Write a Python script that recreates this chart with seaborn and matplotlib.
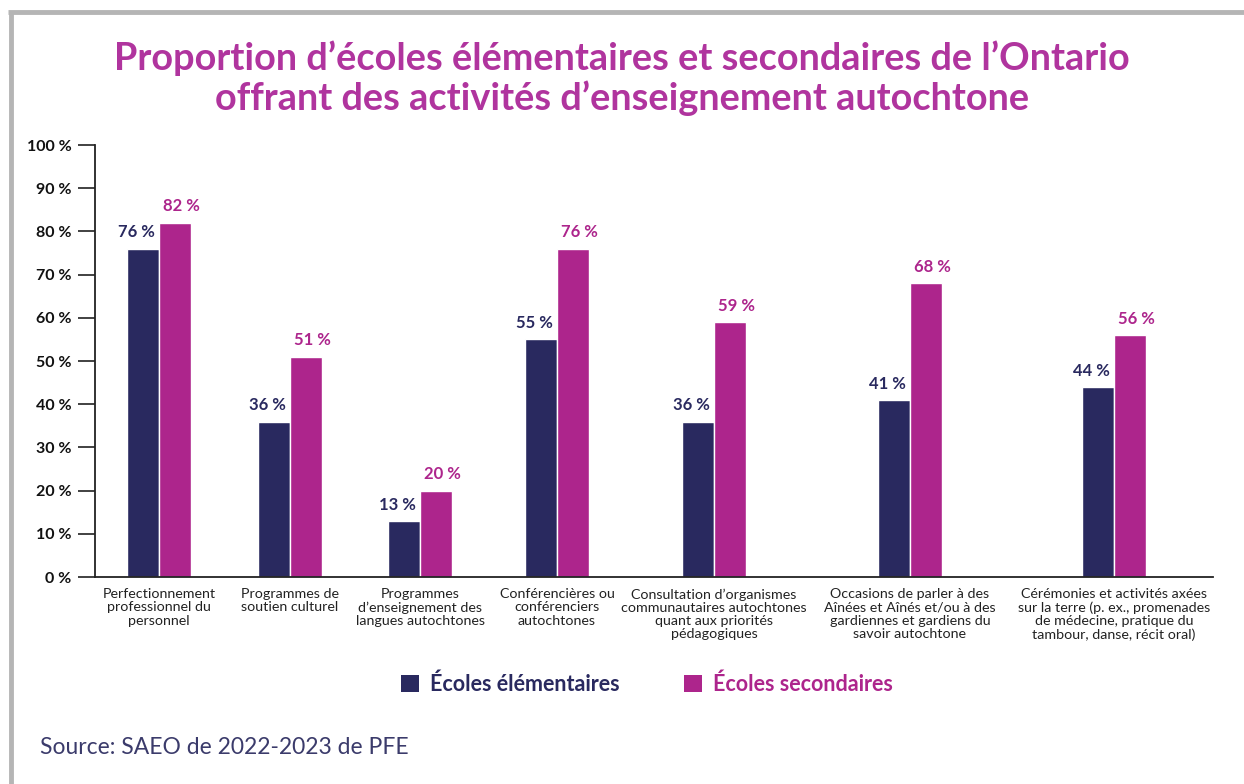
import matplotlib
matplotlib.use("Agg")
import matplotlib.pyplot as plt
import seaborn as sns
import pandas as pd
from matplotlib.lines import Line2D
from matplotlib.patches import Patch

categories = [
    "Perfectionnement\nprofessionnel du\npersonnel",
    "Programmes de\nsoutien culturel",
    "Programmes\nd\u2019enseignement des\nlangues autochtones",
    "Conférencières ou\nconférenciers\nautochtones",
    "Consultation d\u2019organismes\ncommunautaires autochtones\nquant aux priorités\npédagogiques",
    "Occasions de parler à des\nAînées et Aînés et/ou à des\ngardiennes et gardiens du\nsavoir autochtone",
    "Cérémonies et activités axées\nsur la terre (p. ex., promenades\nde médecine, pratique du\ntambour, danse, récit oral)",
]
elementaires = [76, 36, 13, 55, 36, 41, 44]
secondaires = [82, 51, 20, 76, 59, 68, 56]
series_names = ["Écoles élémentaires", "Écoles secondaires"]
yticks = [0, 10, 20, 30, 40, 50, 60, 70, 80, 90, 100]
title = "Proportion d\u2019écoles élémentaires et secondaires de l\u2019Ontario\noffrant des activités d\u2019enseignement autochtone"
source = "Source: SAEO de 2022-2023 de PFE"

# layout: slot centres of the categories along the x axis (uneven, as in the original)
slot_centres = [1.59, 2.90, 4.20, 5.57, 7.14, 9.10, 11.14]
x_limits = (0.95, 12.13)

NAVY = "#29295F"
MAGENTA = "#AD258C"
TITLE_C = "#B0349E"

sns.set_theme(style="white")
plt.rcParams["font.family"] = ["Lato", "DejaVu Sans"]

df = pd.DataFrame({
    "pos": slot_centres * 2,
    "val": elementaires + secondaires,
    "serie": [series_names[0]] * len(categories) + [series_names[1]] * len(categories),
})

fig = plt.figure(figsize=(12.44, 7.84), dpi=100)
ax = fig.add_axes([0.0764, 0.264, 0.975 - 0.0764, 0.815 - 0.264])
sns.barplot(data=df, x="pos", y="val", hue="serie", hue_order=series_names,
            palette=[NAVY, MAGENTA], width=0.49, native_scale=True,
            saturation=1, ax=ax, legend=False, errorbar=None)

ax.set_ylim(0, 100)
ax.set_xlim(*x_limits)
ax.set_yticks(yticks)
ax.set_yticklabels([f"{v} %" for v in yticks], fontsize=11.5, fontweight="bold", color="#111111")
ax.set_xticks(slot_centres)
ax.set_xticklabels(categories, fontsize=10.3, color="#222222", linespacing=1.12, va="top")
ax.tick_params(axis="y", length=12, width=1.3, color="#333333", direction="out", pad=5, left=True)
ax.tick_params(axis="x", length=0, pad=8)
ax.set_xlabel("")
ax.set_ylabel("")
for s in ["top", "right"]:
    ax.spines[s].set_visible(False)
for s in ["left", "bottom"]:
    ax.spines[s].set_visible(True)
    ax.spines[s].set_color("#222222")
    ax.spines[s].set_linewidth(1.3)

for cont, col, dx in zip(ax.containers, [NAVY, MAGENTA], [-5, 5]):
    for b in cont:
        h = b.get_height()
        ax.annotate(f"{int(round(h))} %", (b.get_x() + b.get_width() / 2, h),
                    xytext=(dx, 6), textcoords="offset points", ha="center", va="bottom",
                    color=col, fontsize=12, fontweight="bold")

fig.text(0.5, 0.900, title, ha="center", va="center", fontsize=27.3, fontweight="bold",
         color=TITLE_C, linespacing=1.13)

handles = [Patch(facecolor=NAVY, edgecolor="none"), Patch(facecolor=MAGENTA, edgecolor="none")]
leg = fig.legend(handles, series_names, loc="center", bbox_to_anchor=(0.52, 0.127), ncol=2,
                 frameon=False, prop={"weight": "bold", "size": 15.5}, handlelength=0.85,
                 handleheight=0.85, columnspacing=3.0, handletextpad=0.5)
for t, c in zip(leg.get_texts(), [NAVY, MAGENTA]):
    t.set_color(c)

fig.text(0.032, 0.046, source, ha="left", va="center", fontsize=16.5, color="#3B3B6B")

# gray frame
fig.add_artist(Line2D([0.0065, 1.0], [0.985, 0.985], transform=fig.transFigure,
                      color="#B5B5B5", linewidth=3.5, solid_capstyle="butt"))
fig.add_artist(Line2D([0.0085, 0.0085], [0.0, 0.986], transform=fig.transFigure,
                      color="#B5B5B5", linewidth=3.5, solid_capstyle="butt"))

fig.savefig("out.png", dpi=100)
